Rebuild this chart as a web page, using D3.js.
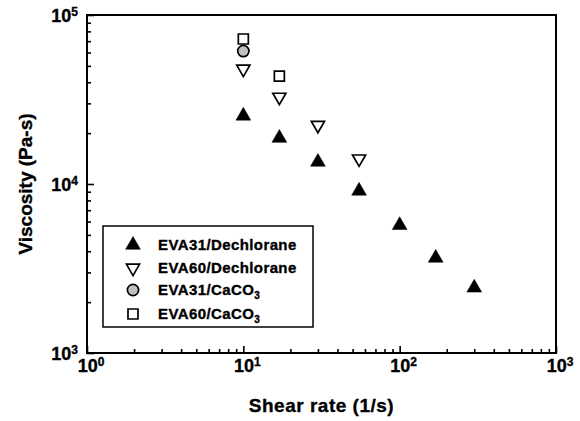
<!DOCTYPE html>
<html>
<head>
<meta charset="utf-8">
<script src="https://cdn.jsdelivr.net/npm/d3@7"></script>
<style>
  body { margin: 0; background: #fff; }
  svg text { font-family: "Liberation Sans", Arial, sans-serif; font-weight: bold; fill: #000; stroke: #000; stroke-width: 0.35px; }
</style>
</head>
<body>
<div id="chart"></div>
<script>
// Data
const eva31Dechlorane = [
  { x: 10, y: 25300 }, { x: 17, y: 18700 }, { x: 30, y: 13500 }, { x: 55, y: 9100 },
  { x: 100, y: 5700 }, { x: 170, y: 3650 }, { x: 300, y: 2430 }
];
const eva60Dechlorane = [
  { x: 10, y: 47900 }, { x: 17, y: 32700 }, { x: 30, y: 22300 }, { x: 55, y: 14100 }
];
const eva31CaCO3 = [ { x: 10, y: 61200 } ];
const eva60CaCO3 = [ { x: 10, y: 72100 }, { x: 17, y: 43500 } ];

const xDecades = [1, 10, 100, 1000];
const yDecades = [1000, 10000, 100000];

const width = 580, height = 421;
const margin = { top: 15, right: 24, bottom: 68, left: 87 };
const plotW = width - margin.left - margin.right;
const plotH = height - margin.top - margin.bottom;

const svg = d3.select('#chart').append('svg')
  .attr('width', width)
  .attr('height', height);

const g = svg.append('g')
  .attr('transform', `translate(${margin.left},${margin.top})`);

const x = d3.scaleLog().domain([1, 1000]).range([0, plotW]);
const y = d3.scaleLog().domain([1000, 100000]).range([plotH, 0]);

// minor ticks between decades
function minors(decades) {
  const out = [];
  for (let i = 0; i < decades.length - 1; i++) {
    for (let k = 2; k <= 9; k++) out.push(decades[i] * k);
  }
  return out;
}

function inside(axis, size) {
  return a => {
    a.call(axis.tickSize(-size).tickFormat(''));
    a.select('.domain').remove();
    a.selectAll('line').attr('stroke', '#000').attr('stroke-width', 1.6);
  };
}

// x ticks (inside)
g.append('g')
  .attr('transform', `translate(0,${plotH})`)
  .call(inside(d3.axisBottom(x).tickValues(minors(xDecades)), 4));
g.append('g')
  .attr('transform', `translate(0,${plotH})`)
  .call(inside(d3.axisBottom(x).tickValues(xDecades), 7));

// y ticks (inside)
g.append('g')
  .call(inside(d3.axisLeft(y).tickValues(minors(yDecades)), 4));
g.append('g')
  .call(inside(d3.axisLeft(y).tickValues(yDecades), 7));

// frame
g.append('rect')
  .attr('width', plotW)
  .attr('height', plotH)
  .attr('fill', 'none')
  .attr('stroke', '#000')
  .attr('stroke-width', 2);

// tick labels with superscripts
function powLabel(sel, v) {
  const e = Math.round(Math.log10(v));
  sel.append('tspan').attr('font-size', 18).text('10');
  sel.append('tspan').attr('dy', -6).attr('font-size', 12).text(e);
}

xDecades.forEach(v => {
  g.append('text')
    .attr('x', x(v) + 4)
    .attr('y', plotH + 19)
    .attr('font-size', 18)
    .attr('text-anchor', 'middle')
    .call(powLabel, v);
});

yDecades.forEach(v => {
  g.append('text')
    .attr('x', -9)
    .attr('y', y(v) + 7)
    .attr('font-size', 18)
    .attr('text-anchor', 'end')
    .call(powLabel, v);
});

// axis titles
g.append('text')
  .attr('x', plotW / 2)
  .attr('y', plotH + 59)
  .attr('text-anchor', 'middle')
  .style('font-size', '19px')
  .style('letter-spacing', '0.5px')
  .text('Shear rate (1/s)');

g.append('text')
  .attr('transform', `translate(${-55},${plotH / 2}) rotate(-90)`)
  .attr('text-anchor', 'middle')
  .style('font-size', '19px')
  .text('Viscosity (Pa-s)');

// marker shapes
const triUp = d3.symbol().type(d3.symbolTriangle).size(95);
const triDown = d3.symbol().type(d3.symbolTriangle).size(75);
const circ = d3.symbol().type(d3.symbolCircle).size(100);
const sq = d3.symbol().type(d3.symbolSquare).size(100);

const series = [
  { name: 'EVA31/Dechlorane', data: eva31Dechlorane, path: triUp(), rot: 0, fill: '#000', sub: null },
  { name: 'EVA60/Dechlorane', data: eva60Dechlorane, path: triDown(), rot: 180, fill: '#fff', sub: null },
  { name: 'EVA31/CaCO', data: eva31CaCO3, path: circ(), rot: 0, fill: '#c0c0c0', sub: '3' },
  { name: 'EVA60/CaCO', data: eva60CaCO3, path: sq(), rot: 0, fill: '#fff', sub: '3' }
];

series.forEach(s => {
  g.selectAll(null)
    .data(s.data)
    .enter()
    .append('path')
    .attr('d', s.path)
    .attr('transform', d => `translate(${x(d.x)},${y(d.y)}) rotate(${s.rot})`)
    .attr('fill', s.fill)
    .attr('stroke', '#000')
    .attr('stroke-width', s.fill === '#000' ? 0.5 : 1.7);
});

// legend
const legend = svg.append('g').attr('transform', 'translate(103,226)');
legend.append('rect')
  .attr('width', 210)
  .attr('height', 101)
  .attr('fill', '#fff')
  .attr('stroke', '#000')
  .attr('stroke-width', 1.5);

const rowY = [19, 42, 64, 88];
series.forEach((s, i) => {
  legend.append('path')
    .attr('d', s.path)
    .attr('transform', `translate(30,${rowY[i]}) rotate(${s.rot})`)
    .attr('fill', s.fill)
    .attr('stroke', '#000')
    .attr('stroke-width', s.fill === '#000' ? 0.5 : 1.7);
  const t = legend.append('text')
    .attr('x', 55)
    .attr('y', rowY[i] + 5)
    .style('font-size', '15px')
    .style('letter-spacing', '0.4px')
    .text(s.name);
  if (s.sub) {
    t.append('tspan').attr('dy', 4).style('font-size', '10px').text(s.sub);
  }
});
</script>
</body>
</html>
